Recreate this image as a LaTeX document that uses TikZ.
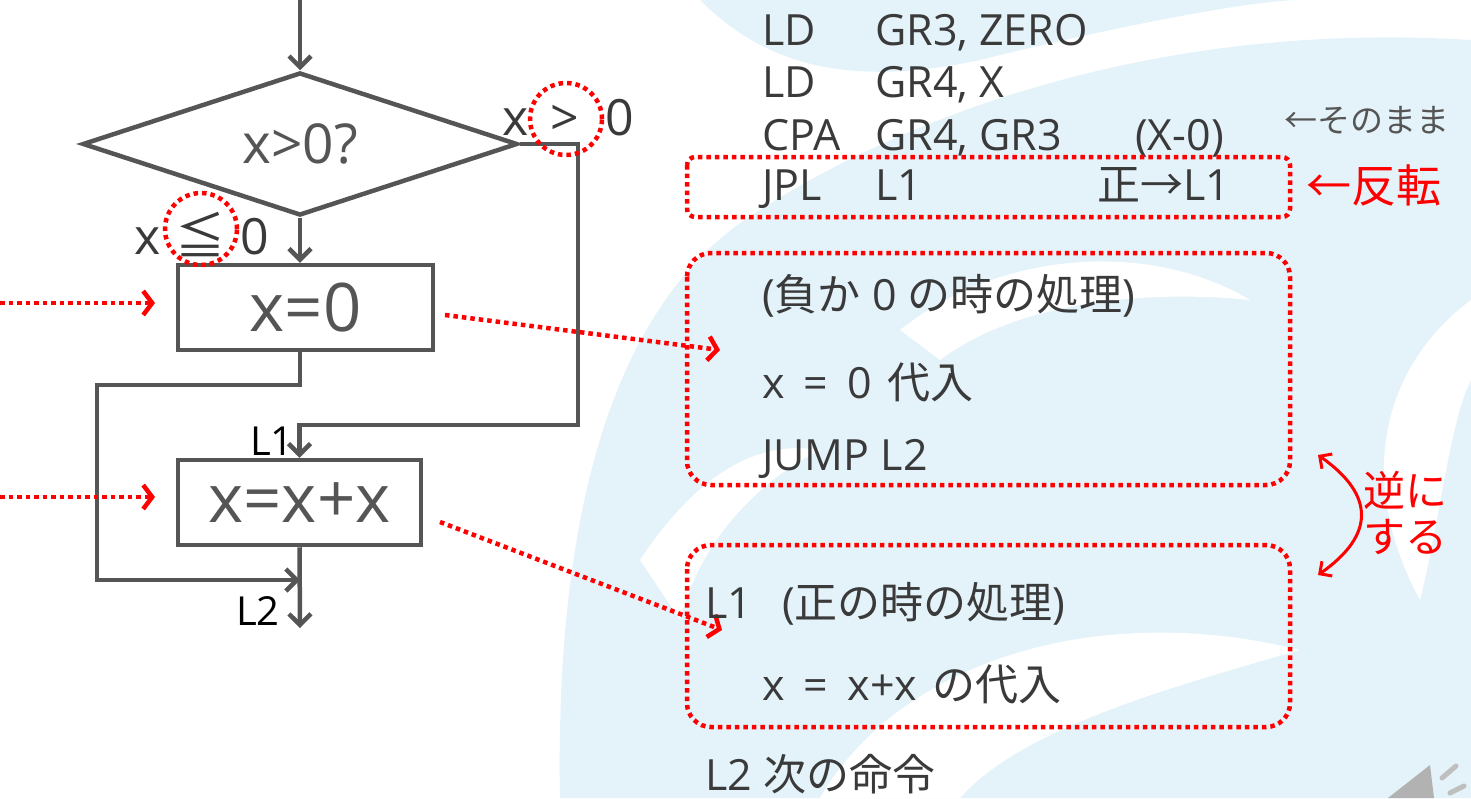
\documentclass[tikz,border=0pt]{standalone}
\usepackage{fontspec}
\setmainfont{Open Sans}
\newfontfamily\jp{Noto Sans CJK JP}
\usetikzlibrary{shapes.geometric,arrows.meta,positioning}

\definecolor{flow}{HTML}{555555}
\definecolor{code}{HTML}{3A3A3A}
\definecolor{mark}{HTML}{FF0000}
\definecolor{wave}{HTML}{E4F3FA}

\tikzset{
  flowline/.style={draw=flow, line width=4.5pt},
  flowarrow/.style={flowline, -{Straight Barb[length=11pt,width=22pt]}},
  decision/.style={diamond, aspect=3, draw=flow, line width=4.5pt, inner sep=0pt,
    minimum width=435pt, minimum height=143pt, text=flow, font=\fontsize{55}{55}\selectfont},
  procbox/.style={rectangle, draw=flow, line width=4.5pt, minimum height=85pt,
    text=flow, font=\fontsize{67}{67}\selectfont},
  branch/.style={anchor=base, text=code, font=\fontsize{50}{50}\selectfont, inner sep=0pt},
  jlabel/.style={anchor=base east, text=black, font=\fontsize{40}{40}\selectfont, inner sep=0pt},
  redline/.style={draw=mark, line width=4.5pt, dash pattern=on 4.5pt off 4pt},
  redarrow/.style={redline, -{Straight Barb[length=9pt,width=24pt]}},
  redring/.style={circle, redline, inner sep=0pt},
  redbox/.style={redline, rounded corners=24pt},
  codetext/.style={anchor=base west, text=code, font=\fontsize{43}{43}\selectfont, inner sep=0pt},
  notetext/.style={anchor=base west, text=mark, font=\jp\fontsize{42}{42}\selectfont, inner sep=0pt}
}

\begin{document}
\begin{tikzpicture}[x=1pt, y=-1pt]
\useasboundingbox (0,0) rectangle (1471,798);

% watermark in the back
\fill[wave] (560,798) .. controls (555,520) and (610,300) .. (760,210)
  .. controls (900,120) and (1150,20) .. (1471,40) -- (1471,798) -- cycle;
\fill[wave] (700,0) .. controls (760,60) and (840,90) .. (980,60)
  .. controls (1100,30) and (1250,0) .. (1300,0) -- cycle;
\fill[white] (820,798) .. controls (900,660) and (1100,600) .. (1300,650)
  .. controls (1160,690) and (1020,730) .. (960,798) -- cycle;
\fill[white] (1471,300) .. controls (1390,360) and (1350,470) .. (1420,600)
  .. controls (1440,520) and (1450,420) .. (1471,380) -- cycle;
\fill[white] (900,330) .. controls (1000,250) and (1150,240) .. (1250,300)
  .. controls (1150,290) and (1020,300) .. (940,360) -- cycle;
\fill[white] (640,560) .. controls (700,470) and (760,440) .. (820,450)
  .. controls (760,480) and (700,540) .. (680,620) -- cycle;

% flowchart
\coordinate (start) at (300,0);
\node[decision] (dec) at (300,144) {x>0?};
\node[procbox, minimum width=255pt] (zero) at (305.5,307.5) {x=0};
\node[procbox, minimum width=243pt] (dbl) at (299.5,502.5) {x=x+x};
\coordinate (rt) at (578,425);
\coordinate (lft) at (97,385);
\coordinate (merge) at (300,580);
\coordinate (stop) at (300,628);

\draw[flowarrow] (start) -- (dec.north);
\draw[flowarrow] (dec.south) -- (dec.south |- zero.north);
\draw[flowarrow] (dec.east) -| (rt) -| (dbl.north);
\draw[flowarrow] (dec.south |- zero.south) |- (lft) |- (merge);
\draw[flowarrow] (dbl.south) -- (stop);

% branch labels
\node[branch] (gtx) at (516,135) {x};
\node[branch] (gtop) at (565,135) {>};
\node[branch] (gtz) at (620,135) {0};
\node[branch] (lex) at (148,254) {x};
\node[branch, font=\jp\fontsize{50}{50}\selectfont] (leop) at (200,254) {≦};
\node[branch] (lez) at (255,254) {0};
\node[redring, minimum size=72pt] (gtring) at (566,119) {};
\node[redring, minimum size=72pt] (lering) at (201,229) {};
\node[jlabel] (lone) at (294,455) {L1};
\node[jlabel] (ltwo) at (280,625) {L2};

% where each box goes
\coordinate (inzero) at (0,303);
\coordinate (atzero) at (155,303);
\coordinate (indbl) at (0,497);
\coordinate (atdbl) at (155,497);
\coordinate (fromzero) at (445,315);
\coordinate (tozero) at (720,350);
\coordinate (fromdbl) at (440,522);
\coordinate (todbl) at (722,630);
\draw[redarrow] (inzero) -- (atzero);
\draw[redarrow] (indbl) -- (atdbl);
\draw[redarrow] (fromzero) -- (tozero);
\draw[redarrow] (fromdbl) -- (todbl);

% assembler
\node[codetext] (opa) at (762,45) {LD};
\node[codetext] (arga) at (875,45) {GR3, ZERO};
\node[codetext] (opb) at (762,97) {LD};
\node[codetext] (argb) at (875,97) {GR4, X};
\node[codetext] (opc) at (762,150) {CPA};
\node[codetext] (argc) at (875,150) {GR4, GR3};
\node[codetext] (remc) at (1135,150) {(X-0)};
\node[codetext] (opd) at (762,200) {JPL};
\node[codetext] (argd) at (875,200) {L1};
\node[codetext] (remd) at (1097,200) {{\jp 正→}L1};
\node[anchor=base west, text=flow, font=\jp\fontsize{33}{33}\selectfont, inner sep=0pt]
  (keep) at (1284,132) {←そのまま};
\draw[redbox, rounded corners=8pt] (687,157) rectangle (1290,217);
\node[notetext, font=\jp\fontsize{45}{45}\selectfont] (flip) at (1306,202) {←反転};

\draw[redbox] (687,253) rectangle (1290,485);
\node[codetext] (nega) at (762,310) {({\jp 負か} 0 {\jp の時の処理})};
\node[codetext] (negb) at (762,398) {x\hspace{8pt} = \hspace{8pt}0 \hspace{4pt}{\jp 代入}};
\node[codetext] (negc) at (762,470) {JUMP L2};

\draw[redbox] (687,545) rectangle (1290,727);
\node[codetext] (posa) at (705,618) {L1\hspace{30pt}({\jp 正の時の処理})};
\node[codetext] (posb) at (762,700) {x\hspace{8pt} = \hspace{8pt}x+x \hspace{4pt}{\jp の代入}};
\node[codetext] (next) at (705,790) {L2 {\jp 次の命令}};

% swap the two blocks
\coordinate (swa) at (1318,455);
\coordinate (swb) at (1318,575);
\draw[draw=mark, line width=3pt, {Straight Barb[length=9pt,width=18pt]}-{Straight Barb[length=9pt,width=18pt]}]
  (swa) .. controls (1375,495) and (1375,535) .. (swb);
\node[notetext, anchor=center] (swc) at (1405,490) {逆に};
\node[notetext, anchor=center] (swd) at (1405,537) {する};

% speaker
\fill[black!30] (1388,798) -- (1430,765) -- (1434,798) -- cycle;
\draw[black!25, line width=5pt, line cap=round] (1442,778) -- (1456,766);
\draw[black!25, line width=5pt, line cap=round] (1450,793) -- (1464,786);
\end{tikzpicture}
\end{document}
